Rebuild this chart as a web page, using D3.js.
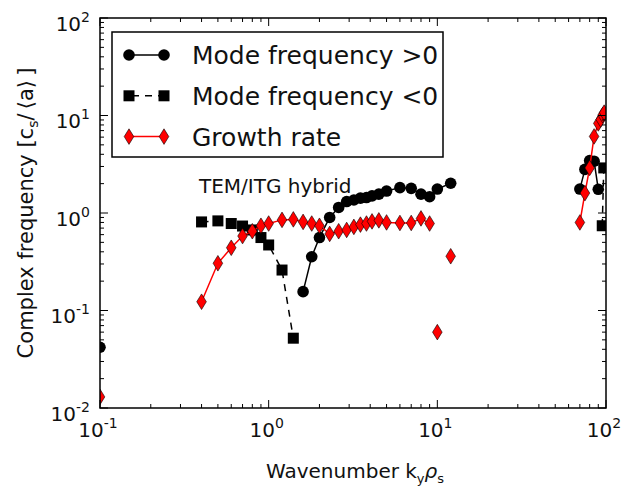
<!DOCTYPE html>
<html>
<head>
<meta charset="utf-8">
<script src="https://cdn.jsdelivr.net/npm/d3@7"></script>
<style>
  body { margin: 0; background: #fff; }
  svg { font-family: "DejaVu Sans", sans-serif; }
</style>
</head>
<body>
<svg width="623" height="486"></svg>
<script>
"use strict";

// growth rate (red diamonds), null = gap in the line
var growthK = [0.1, null, 0.4, 0.5, 0.6, 0.7, 0.8, 0.9, 1.0, 1.2, 1.4, 1.6, 1.8, 2.0, 2.3, 2.6, 2.9, 3.2, 3.5, 3.8, 4.1, 4.5, 5, 6, 7, 8, 9, null, 10, null, 12, null, 70, 75, 80, 85, 90, 93, 95.5, 97.5];
var growthV = [0.013, null, 0.123, 0.305, 0.44, 0.58, 0.65, 0.74, 0.78, 0.85, 0.86, 0.81, 0.78, 0.74, 0.61, 0.65, 0.67, 0.72, 0.76, 0.78, 0.82, 0.84, 0.80, 0.79, 0.79, 0.88, 0.78, null, 0.06, null, 0.36, null, 0.80, 1.6, 2.9, 6.1, 8.3, 9.1, 10.1, 10.7];

// mode frequency > 0 (circles)
var posK = [0.1, null, 1.6, 1.8, 2.0, 2.3, 2.6, 2.9, 3.2, 3.5, 3.8, 4.1, 4.5, 5, 6, 7, 8, 9, 10, 12, null, 70, 75, 80, 85, 90];
var posV = [0.042, null, 0.156, 0.356, 0.56, 0.9, 1.14, 1.31, 1.36, 1.42, 1.44, 1.50, 1.56, 1.68, 1.82, 1.79, 1.56, 1.47, 1.76, 2.02, null, 1.76, 2.8, 3.45, 3.4, 1.75];

// mode frequency < 0 (squares)
var negK = [0.4, 0.5, 0.6, 0.7, 0.8, 0.9, 1.0, 1.2, 1.4, null, 95, 97];
var negV = [0.81, 0.83, 0.78, 0.735, 0.67, 0.56, 0.47, 0.26, 0.052, null, 0.74, 2.9];

var xDecades = [-1, 0, 1, 2];
var yDecades = [-2, -1, 0, 1, 2];

var svg = d3.select("svg"),
    margin = {top: 18, right: 17, bottom: 78, left: 100},
    width = 623 - margin.left - margin.right,
    height = 486 - margin.top - margin.bottom,
    g = svg.append("g").attr("transform", "translate(" + margin.left + "," + margin.top + ")");

var x = d3.scaleLog().domain([0.1, 100]).range([0, width]);
var y = d3.scaleLog().domain([0.01, 100]).range([height, 0]);

function pairs(ks, vs) {
  return ks.map(function(k, i) { return {k: k, v: vs[i]}; });
}

svg.append("defs").append("clipPath").attr("id", "clip")
  .append("rect").attr("width", width).attr("height", height);

var plot = g.append("g").attr("clip-path", "url(#clip)");

var line = d3.line()
  .defined(function(d) { return d.v != null; })
  .x(function(d) { return x(d.k); })
  .y(function(d) { return y(d.v); });

var growth = pairs(growthK, growthV),
    pos = pairs(posK, posV),
    neg = pairs(negK, negV);
function real(d) { return d.v != null; }

plot.append("path").datum(neg).attr("d", line)
  .attr("fill", "none").attr("stroke", "#000").attr("stroke-width", 1.5)
  .attr("stroke-dasharray", "7,6");
plot.append("path").datum(pos).attr("d", line)
  .attr("fill", "none").attr("stroke", "#000").attr("stroke-width", 1.5);

var sq = 11;
plot.selectAll(".sq").data(neg.filter(real)).enter().append("rect")
  .attr("x", function(d) { return x(d.k) - sq / 2; })
  .attr("y", function(d) { return y(d.v) - sq / 2; })
  .attr("width", sq).attr("height", sq).attr("fill", "#000");

plot.selectAll(".ci").data(pos.filter(real)).enter().append("circle")
  .attr("cx", function(d) { return x(d.k); })
  .attr("cy", function(d) { return y(d.v); })
  .attr("r", 5.8).attr("fill", "#000");

plot.append("path").datum(growth).attr("d", line)
  .attr("fill", "none").attr("stroke", "red").attr("stroke-width", 1.5);

function diamond(cx, cy) {
  var w = 4.8, h = 7.8;
  return "M" + cx + "," + (cy - h) + "L" + (cx + w) + "," + cy + "L" + cx + "," + (cy + h) + "L" + (cx - w) + "," + cy + "Z";
}
plot.selectAll(".di").data(growth.filter(real)).enter().append("path")
  .attr("d", function(d) { return diamond(x(d.k), y(d.v)); })
  .attr("fill", "red").attr("stroke", "#000").attr("stroke-width", 0.6);

// frame
g.append("rect").attr("width", width).attr("height", height)
  .attr("fill", "none").attr("stroke", "#000").attr("stroke-width", 1.5);

// ticks, drawn inward on all four sides
var ticksG = g.append("g").attr("stroke", "#000").attr("stroke-width", 1);
function minors(decs) {
  var out = [];
  for (var i = 0; i < decs.length - 1; i++)
    for (var m = 2; m <= 9; m++) out.push(m * Math.pow(10, decs[i]));
  return out;
}
xDecades.forEach(function(e) {
  var px = x(Math.pow(10, e));
  ticksG.append("line").attr("x1", px).attr("x2", px).attr("y1", height).attr("y2", height - 8);
  ticksG.append("line").attr("x1", px).attr("x2", px).attr("y1", 0).attr("y2", 8);
});
minors(xDecades).forEach(function(v) {
  var px = x(v);
  ticksG.append("line").attr("x1", px).attr("x2", px).attr("y1", height).attr("y2", height - 4);
  ticksG.append("line").attr("x1", px).attr("x2", px).attr("y1", 0).attr("y2", 4);
});
yDecades.forEach(function(e) {
  var py = y(Math.pow(10, e));
  ticksG.append("line").attr("x1", 0).attr("x2", 8).attr("y1", py).attr("y2", py);
  ticksG.append("line").attr("x1", width).attr("x2", width - 8).attr("y1", py).attr("y2", py);
});
minors(yDecades).forEach(function(v) {
  var py = y(v);
  ticksG.append("line").attr("x1", 0).attr("x2", 4).attr("y1", py).attr("y2", py);
  ticksG.append("line").attr("x1", width).attr("x2", width - 4).attr("y1", py).attr("y2", py);
});

// tick labels
function powLabel(sel, e) {
  sel.append("tspan").text("10");
  sel.append("tspan").attr("font-size", 14).attr("dy", -9).text(e < 0 ? "-" + (-e) : e);
}
xDecades.forEach(function(e) {
  var t = g.append("text").attr("x", x(Math.pow(10, e)) - 2).attr("y", height + 29)
    .attr("text-anchor", "middle").attr("font-size", 20).attr("fill", "#111");
  powLabel(t, e);
});
yDecades.forEach(function(e) {
  var t = g.append("text").attr("x", -10).attr("y", y(Math.pow(10, e)) + 12.5)
    .attr("text-anchor", "end").attr("font-size", 20).attr("fill", "#111");
  powLabel(t, e);
});

// axis labels
var xl = g.append("text").attr("x", width / 2 + 2).attr("y", height + 70)
  .attr("text-anchor", "middle").attr("font-size", 20).attr("fill", "#111");
xl.append("tspan").text("Wavenumber k");
xl.append("tspan").attr("font-size", 13).attr("dy", 5).text("y");
xl.append("tspan").attr("dy", -5).attr("font-style", "italic").text("\u03c1");
xl.append("tspan").attr("font-size", 13).attr("dy", 5).text("s");

var yl = svg.append("text").attr("transform", "translate(33," + (margin.top + height / 2) + ") rotate(-90)")
  .attr("text-anchor", "middle").attr("font-size", 21).attr("fill", "#111");
yl.append("tspan").text("Complex frequency [c");
yl.append("tspan").attr("font-size", 14).attr("dy", 5).text("s");
yl.append("tspan").attr("dy", -5).text("/\u2009\u27e8a\u27e9\u2009]");

// annotation
g.append("text").attr("x", 99).attr("y", 175).attr("font-size", 20).attr("fill", "#111")
  .text("TEM/ITG hybrid");

// legend
var lg = g.append("g").attr("transform", "translate(12,14)");
lg.append("rect").attr("width", 331).attr("height", 125)
  .attr("fill", "#fff").attr("stroke", "#000").attr("stroke-width", 1.5);
var items = [
  {label: "Mode frequency >0", kind: "circle"},
  {label: "Mode frequency <0", kind: "square"},
  {label: "Growth rate", kind: "diamond"}
];
items.forEach(function(it, i) {
  var cy = 23 + i * 40.8, xa = 17, xb = 52;
  var row = lg.append("g");
  if (it.kind === "circle") {
    row.append("line").attr("x1", xa).attr("x2", xb).attr("y1", cy).attr("y2", cy)
      .attr("stroke", "#000").attr("stroke-width", 1.5);
    [xa, xb].forEach(function(px) {
      row.append("circle").attr("cx", px).attr("cy", cy).attr("r", 5.8).attr("fill", "#000");
    });
  } else if (it.kind === "square") {
    row.append("line").attr("x1", xa).attr("x2", xb).attr("y1", cy).attr("y2", cy)
      .attr("stroke", "#000").attr("stroke-width", 1.5).attr("stroke-dasharray", "7,6")
      .attr("stroke-dashoffset", -3);
    [xa, xb].forEach(function(px) {
      row.append("rect").attr("x", px - sq / 2).attr("y", cy - sq / 2)
        .attr("width", sq).attr("height", sq).attr("fill", "#000");
    });
  } else {
    row.append("line").attr("x1", xa).attr("x2", xb).attr("y1", cy).attr("y2", cy)
      .attr("stroke", "red").attr("stroke-width", 1.5);
    [xa, xb].forEach(function(px) {
      row.append("path").attr("d", diamond(px, cy))
        .attr("fill", "red").attr("stroke", "#000").attr("stroke-width", 0.6);
    });
  }
  row.append("text").attr("x", 80).attr("y", cy + 9).attr("font-size", 25).attr("fill", "#111")
    .text(it.label);
});
</script>
</body>
</html>
